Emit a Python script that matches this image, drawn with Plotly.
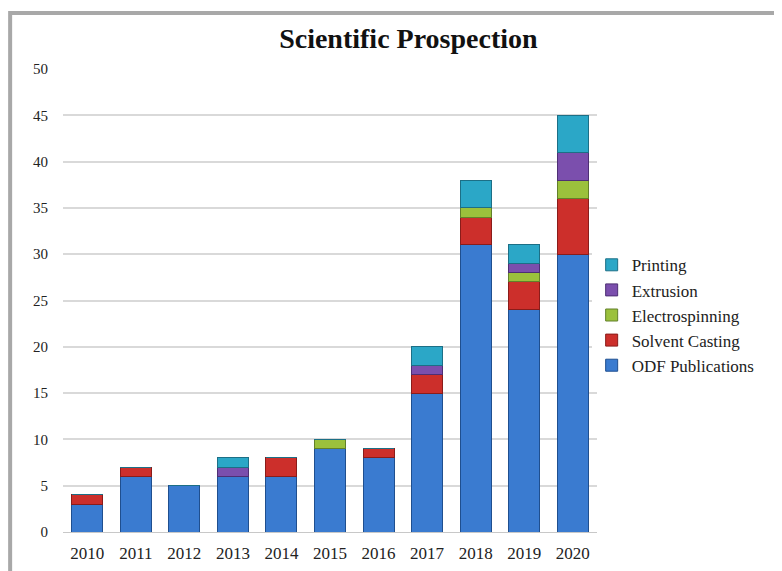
import plotly.graph_objects as go

years = ["2010", "2011", "2012", "2013", "2014", "2015", "2016", "2017", "2018", "2019", "2020"]
odf = [3, 6, 5, 6, 6, 9, 8, 15, 31, 24, 30]
solvent = [1, 1, 0, 0, 2, 0, 1, 2, 3, 3, 6]
electro = [0, 0, 0, 0, 0, 1, 0, 0, 1, 1, 2]
extrusion = [0, 0, 0, 1, 0, 0, 0, 1, 0, 1, 3]
printing = [0, 0, 0, 1, 0, 0, 0, 2, 3, 2, 4]

series = [
    ("ODF Publications", odf, "#3a7bd0", "#1f4f8f"),
    ("Solvent Casting", solvent, "#cc2f2b", "#8a1c1a"),
    ("Electrospinning", electro, "#9bc13c", "#62802a"),
    ("Extrusion", extrusion, "#7b4fad", "#4e2f74"),
    ("Printing", printing, "#2ba7c7", "#1c6f86"),
]

fig = go.Figure()
for name, vals, col, edge in series:
    fig.add_trace(go.Bar(
        x=years, y=vals, name=name,
        marker=dict(color=col, line=dict(color=edge, width=1)),
    ))

serif = "Liberation Serif, Times New Roman, serif"
fig.update_layout(
    barmode="stack",
    bargap=0.36,
    width=782, height=571,
    paper_bgcolor="white", plot_bgcolor="white",
    margin=dict(l=55, r=193, t=61, b=47),
    title=dict(text="<b>Scientific Prospection</b>", x=0.512, xanchor="center",
               y=1 - 30 / 571, yanchor="middle",
               font=dict(family=serif, size=28, color="#111")),
    font=dict(family=serif, size=16, color="#222"),
    xaxis=dict(showgrid=False, showline=True, linecolor="#c8c8c8", linewidth=1,
               ticks="", ticklabelstandoff=6,
               tickfont=dict(family=serif, size=17, color="#222")),
    yaxis=dict(range=[0, 50], dtick=5, showgrid=True, gridcolor="#d9d9d9", gridwidth=1.5,
               zeroline=False, showline=False, ticks="", ticklabelstandoff=14,
               tickfont=dict(family=serif, size=15, color="#222")),
    legend=dict(x=0.99, y=0.615, xanchor="left", yanchor="top",
                traceorder="reversed", font=dict(family=serif, size=17, color="#222"),
                itemwidth=30, tracegroupgap=0),
    shapes=[dict(type="rect", xref="paper", yref="paper",
                 x0=-0.099, x1=1.5, y0=-0.3, y1=1.121,
                 line=dict(color="#a8a8a8", width=4), layer="below")],
)

fig.write_html("out.html")
